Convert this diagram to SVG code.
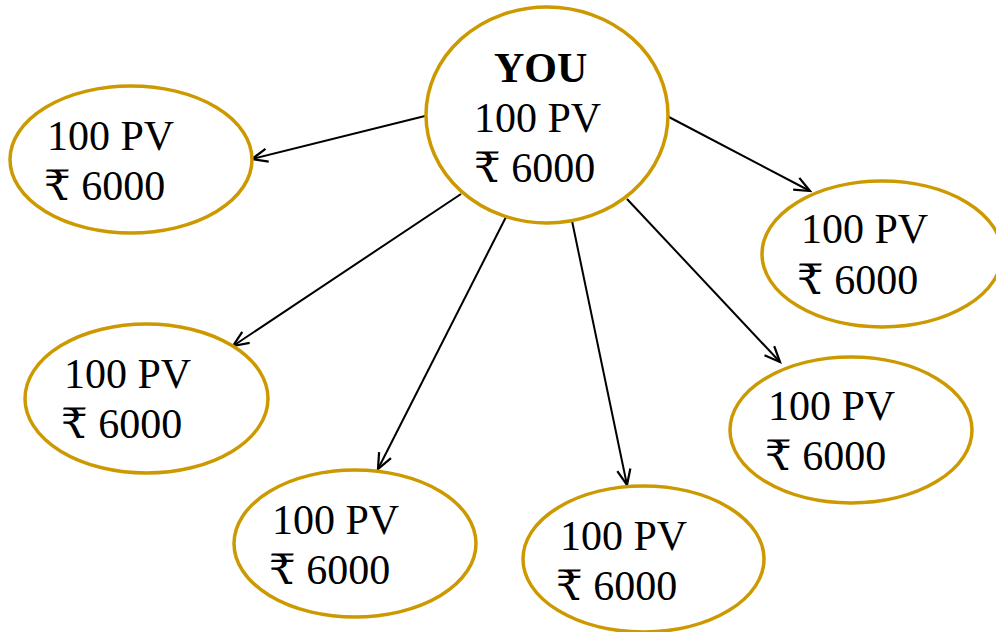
<svg xmlns="http://www.w3.org/2000/svg" width="996" height="632" viewBox="0 0 996 632">
<style>
.node{fill:#fff;stroke:#CC9900;stroke-width:3.5}
.t{font-family:"Liberation Serif","DejaVu Serif","Noto Sans",serif;font-size:42px;fill:#000}
.b{font-weight:bold}
.c{stroke:#000;stroke-width:2;fill:none}
</style>
<defs>
<marker id="ah" markerUnits="userSpaceOnUse" markerWidth="20" markerHeight="20" viewBox="-16 -8 18 16" refX="0" refY="0" orient="auto">
<path d="M-14,-6 L0,0 L-14,6" fill="none" stroke="#000" stroke-width="2"/>
</marker>
</defs>
<g id="connectors">
<line class="c" x1="425" y1="116" x2="252" y2="159" marker-end="url(#ah)"/>
<line class="c" x1="667" y1="116" x2="810" y2="191" marker-end="url(#ah)"/>
<line class="c" x1="461" y1="194" x2="233" y2="346" marker-end="url(#ah)"/>
<line class="c" x1="507" y1="215" x2="378" y2="469" marker-end="url(#ah)"/>
<line class="c" x1="571" y1="216" x2="627" y2="485" marker-end="url(#ah)"/>
<line class="c" x1="627" y1="199" x2="780" y2="362" marker-end="url(#ah)"/>
</g>
<g id="you">
<ellipse class="node" cx="547" cy="115" rx="121" ry="108"/>
<text class="t b" x="494" y="82">YOU</text>
<text class="t" x="474" y="132">100 PV</text>
<text class="t" x="474" y="182">₹ 6000</text>
</g>
<g id="n1">
<ellipse class="node" cx="131" cy="159.5" rx="121" ry="73.5"/>
<text class="t" x="47" y="150">100 PV</text>
<text class="t" x="44" y="200">₹ 6000</text>
</g>
<g id="n2">
<ellipse class="node" cx="882" cy="254" rx="120" ry="73"/>
<text class="t" x="801" y="243">100 PV</text>
<text class="t" x="797" y="294">₹ 6000</text>
</g>
<g id="n3">
<ellipse class="node" cx="146.5" cy="398.5" rx="121.5" ry="74.5"/>
<text class="t" x="64" y="388">100 PV</text>
<text class="t" x="61" y="438">₹ 6000</text>
</g>
<g id="n4">
<ellipse class="node" cx="851" cy="430" rx="121" ry="73"/>
<text class="t" x="768" y="420">100 PV</text>
<text class="t" x="765" y="470">₹ 6000</text>
</g>
<g id="n5">
<ellipse class="node" cx="355" cy="543.5" rx="121" ry="73.5"/>
<text class="t" x="272" y="534">100 PV</text>
<text class="t" x="269" y="584">₹ 6000</text>
</g>
<g id="n6">
<ellipse class="node" cx="643.5" cy="559" rx="120.5" ry="73"/>
<text class="t" x="560" y="550">100 PV</text>
<text class="t" x="556" y="600">₹ 6000</text>
</g>
</svg>
